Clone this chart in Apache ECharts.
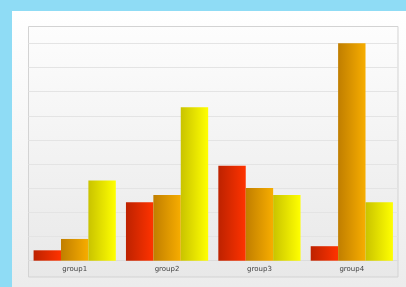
<!DOCTYPE html>
<html>
<head>
<meta charset="utf-8">
<script src="https://cdn.jsdelivr.net/npm/echarts@6/dist/echarts.min.js"></script>
<style>
html, body { margin: 0; padding: 0; background: #8fdcf5; }
#chart { width: 406px; height: 287px; }
</style>
</head>
<body>
<div id="chart"></div>
<script>
var categories = ['group1', 'group2', 'group3', 'group4'];
var redValues = [0.43, 2.42, 3.93, 0.6];
var orangeValues = [0.9, 2.72, 3.01, 9];
var yellowValues = [3.32, 6.35, 2.72, 2.42];

function hGrad(a, b) {
    return new echarts.graphic.LinearGradient(0, 0, 1, 0, [
        { offset: 0, color: a },
        { offset: 1, color: b }
    ]);
}

var myChart = echarts.init(document.getElementById('chart'));
var option = {
    animation: false,
    backgroundColor: '#8fdcf5',
    graphic: [
        {
            type: 'rect', z: -20, silent: true,
            shape: { x: 12, y: 11, width: 394, height: 276 },
            style: {
                fill: new echarts.graphic.LinearGradient(0, 0, 0, 1, [
                    { offset: 0, color: '#ffffff' },
                    { offset: 1, color: '#ececec' }
                ])
            }
        },
        {
            type: 'rect', z: -10, silent: true,
            shape: { x: 28.5, y: 26.5, width: 369.5, height: 250.5 },
            style: {
                fill: new echarts.graphic.LinearGradient(0, 0, 0, 1, [
                    { offset: 0, color: '#fdfdfd' },
                    { offset: 1, color: '#e8e8e8' }
                ]),
                stroke: '#d3d3d3',
                lineWidth: 1
            }
        }
    ],
    grid: { left: 28.5, right: 8, top: 43.3, bottom: 26.3 },
    xAxis: {
        type: 'category',
        data: categories,
        axisLine: { lineStyle: { color: '#dcdcdc' } },
        axisTick: { show: false },
        axisLabel: { fontSize: 7, color: '#444', margin: 5, fontFamily: 'DejaVu Sans' }
    },
    yAxis: {
        type: 'value',
        min: 0,
        max: 9,
        interval: 1,
        axisLabel: { show: false },
        axisLine: { show: false },
        axisTick: { show: false },
        splitLine: { lineStyle: { color: '#e4e4e4' } }
    },
    series: [
        {
            type: 'bar', data: redValues, barGap: 0, barCategoryGap: '11%',
            itemStyle: { color: hGrad('#bd2200', '#ff3300') }
        },
        {
            type: 'bar', data: orangeValues, barGap: 0, barCategoryGap: '11%',
            itemStyle: { color: hGrad('#c07e00', '#f7ad00') }
        },
        {
            type: 'bar', data: yellowValues, barGap: 0, barCategoryGap: '11%',
            itemStyle: { color: hGrad('#c9c300', '#ffff00') }
        }
    ]
};
myChart.setOption(option);
</script>
</body>
</html>
